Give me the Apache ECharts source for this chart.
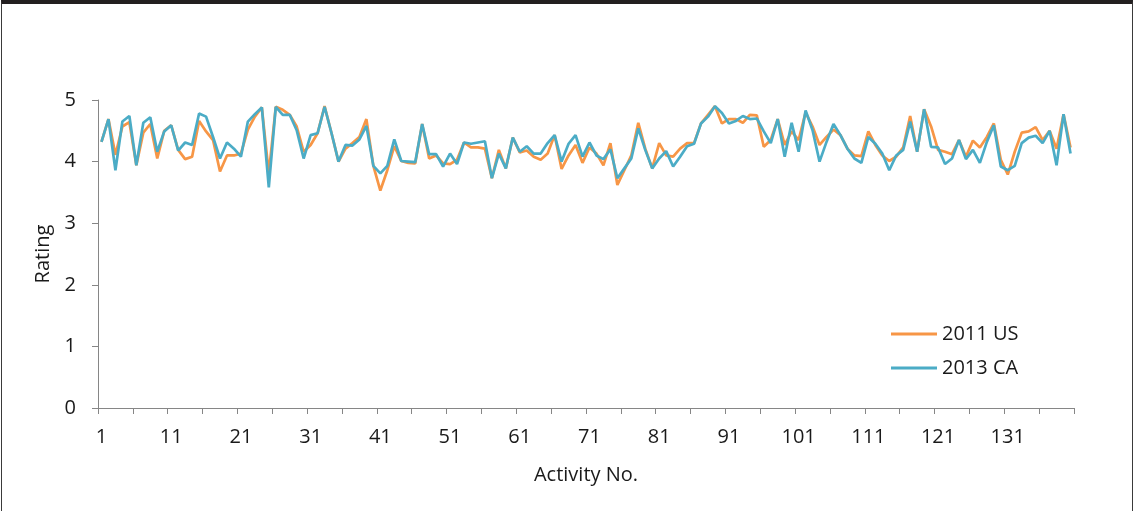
<!DOCTYPE html>
<html>
<head>
<meta charset="utf-8">
<script src="https://cdn.jsdelivr.net/npm/echarts@6/dist/echarts.min.js"></script>
<style>
  html, body { margin: 0; padding: 0; background: #fff; }
  #chart { width: 1137px; height: 511px; }
  #frame {
    position: absolute; left: 1px; top: 0; width: 1132px; height: 515px;
    box-sizing: border-box;
    border-top: 4px solid #231f20;
    border-left: 1px solid #3a3a3a;
    border-right: 1px solid #3a3a3a;
    pointer-events: none;
  }
</style>
</head>
<body>
<div id="chart"></div>
<div id="frame"></div>
<script>
// activity numbers 1..140
const activities = Array.from({ length: 140 }, (_, i) => String(i + 1));

const us2011 = [
  4.32, 4.69, 4.11, 4.57, 4.64, 3.94, 4.47, 4.61, 4.05, 4.50,
  4.59, 4.19, 4.04, 4.08, 4.66, 4.49, 4.35, 3.84, 4.10, 4.10,
  4.13, 4.52, 4.73, 4.88, 3.81, 4.89, 4.84, 4.76, 4.57, 4.16,
  4.27, 4.46, 4.90, 4.46, 4.00, 4.21, 4.30, 4.40, 4.69, 3.93,
  3.53, 3.86, 4.25, 4.01, 3.98, 3.97, 4.61, 4.05, 4.10, 3.97,
  3.96, 4.03, 4.31, 4.23, 4.23, 4.21, 3.73, 4.19, 3.89, 4.39,
  4.15, 4.18, 4.08, 4.03, 4.13, 4.43, 3.88, 4.10, 4.27, 3.98,
  4.23, 4.13, 3.94, 4.30, 3.62, 3.86, 4.10, 4.63, 4.21, 3.89,
  4.30, 4.10, 4.08, 4.21, 4.30, 4.30, 4.62, 4.76, 4.90, 4.62,
  4.69, 4.69, 4.63, 4.76, 4.75, 4.24, 4.35, 4.69, 4.27, 4.49,
  4.35, 4.80, 4.57, 4.27, 4.40, 4.52, 4.43, 4.21, 4.10, 4.09,
  4.49, 4.27, 4.10, 4.01, 4.08, 4.23, 4.74, 4.16, 4.85, 4.57,
  4.19, 4.16, 4.12, 4.35, 4.08, 4.34, 4.23, 4.40, 4.62, 4.03,
  3.79, 4.16, 4.47, 4.49, 4.56, 4.35, 4.50, 4.21, 4.77, 4.23
];

const ca2013 = [
  4.32, 4.69, 3.86, 4.65, 4.74, 3.94, 4.63, 4.72, 4.16, 4.49,
  4.59, 4.18, 4.31, 4.27, 4.78, 4.73, 4.40, 4.05, 4.31, 4.21,
  4.08, 4.65, 4.77, 4.88, 3.58, 4.89, 4.76, 4.76, 4.51, 4.05,
  4.43, 4.46, 4.89, 4.46, 4.00, 4.27, 4.26, 4.36, 4.58, 3.93,
  3.81, 3.93, 4.36, 4.01, 4.00, 3.99, 4.61, 4.12, 4.12, 3.92,
  4.13, 3.96, 4.31, 4.29, 4.31, 4.33, 3.73, 4.13, 3.89, 4.39,
  4.16, 4.25, 4.13, 4.13, 4.30, 4.43, 4.00, 4.29, 4.43, 4.08,
  4.31, 4.10, 4.04, 4.20, 3.73, 3.89, 4.05, 4.54, 4.19, 3.89,
  4.05, 4.17, 3.92, 4.08, 4.25, 4.29, 4.62, 4.73, 4.90, 4.79,
  4.62, 4.66, 4.74, 4.69, 4.70, 4.49, 4.30, 4.69, 4.08, 4.63,
  4.16, 4.83, 4.51, 4.00, 4.32, 4.61, 4.43, 4.21, 4.05, 3.98,
  4.40, 4.29, 4.13, 3.86, 4.10, 4.19, 4.65, 4.16, 4.85, 4.24,
  4.23, 3.96, 4.05, 4.35, 4.04, 4.19, 3.98, 4.32, 4.59, 3.92,
  3.86, 3.93, 4.30, 4.39, 4.42, 4.30, 4.50, 3.94, 4.77, 4.13
];

const seriesNames = ["2011 US", "2013 CA"];
const seriesColors = ["#f79646", "#4bacc6"];

const FONT = "'Open Sans', sans-serif";
const FSIZE = 20;
const TEXT = "#1a1a1a";
const AXIS = "#868686";

var myChart = echarts.init(document.getElementById("chart"));
var option = {
  animation: false,
  textStyle: { fontFamily: FONT },
  grid: { left: 98, right: 63, top: 100, bottom: 103 },
  legend: {
    orient: "vertical",
    left: 891,
    top: 324,
    padding: 0,
    icon: "rect",
    itemWidth: 46,
    itemHeight: 3,
    itemGap: 14,
    textStyle: { fontFamily: FONT, fontSize: FSIZE, color: TEXT },
    data: seriesNames
  },
  xAxis: {
    type: "category",
    data: activities,
    boundaryGap: true,
    name: "Activity No.",
    nameLocation: "middle",
    nameGap: 57,
    nameTextStyle: { fontFamily: FONT, fontSize: FSIZE, color: TEXT },
    axisLine: { lineStyle: { color: AXIS, width: 1 } },
    axisTick: { show: true, interval: 4, length: 6, lineStyle: { color: AXIS } },
    axisLabel: { interval: 9, margin: 19, fontFamily: FONT, fontSize: FSIZE, color: TEXT }
  },
  yAxis: {
    type: "value",
    min: 0,
    max: 5,
    interval: 1,
    name: "Rating",
    nameLocation: "middle",
    nameGap: 45,
    nameTextStyle: { fontFamily: FONT, fontSize: FSIZE, color: TEXT },
    splitLine: { show: false },
    axisLine: { show: true, lineStyle: { color: AXIS, width: 1 } },
    axisTick: { show: true, length: 6, lineStyle: { color: AXIS } },
    axisLabel: { margin: 22, fontFamily: FONT, fontSize: FSIZE, color: TEXT }
  },
  series: [
    {
      name: seriesNames[0],
      type: "line",
      data: us2011,
      symbol: "none",
      color: seriesColors[0],
      lineStyle: { color: seriesColors[0], width: 2.7 }
    },
    {
      name: seriesNames[1],
      type: "line",
      data: ca2013,
      symbol: "none",
      color: seriesColors[1],
      lineStyle: { color: seriesColors[1], width: 2.7 }
    }
  ]
};
myChart.setOption(option);
</script>
</body>
</html>
